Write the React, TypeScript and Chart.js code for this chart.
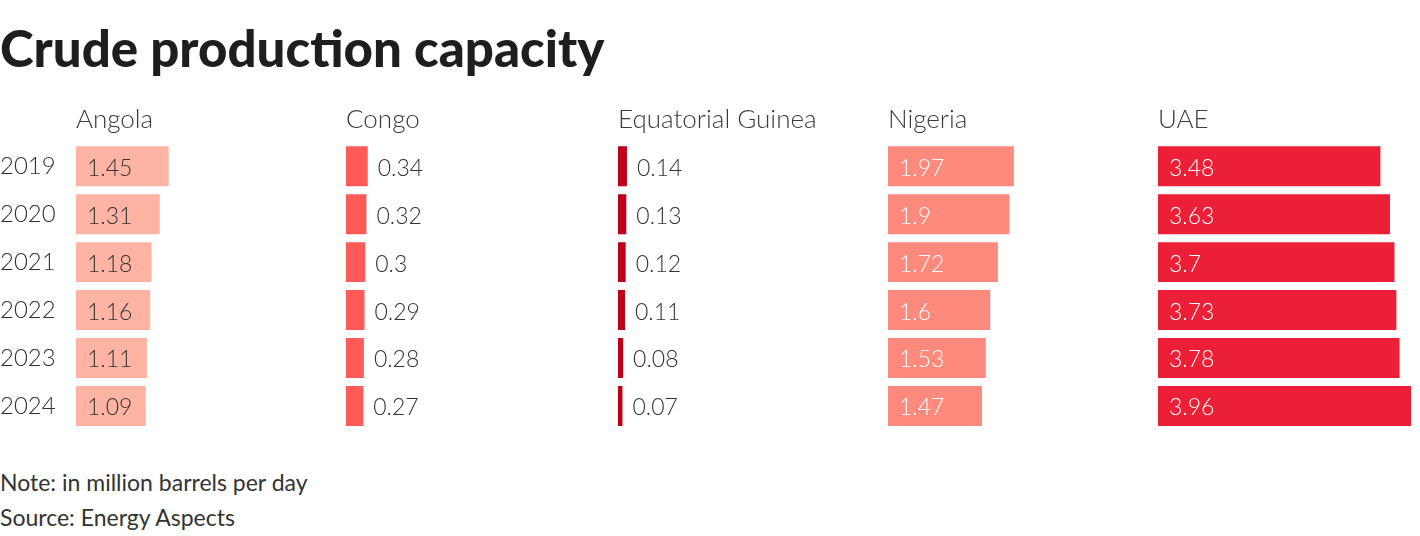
import React, { useEffect, useRef } from "react";
import { Chart, registerables } from "chart.js";

Chart.register(...registerables);

const years = ["2019", "2020", "2021", "2022", "2023", "2024"];
const countries = ["Angola", "Congo", "Equatorial Guinea", "Nigeria", "UAE"];
const angola = [1.45, 1.31, 1.18, 1.16, 1.11, 1.09];
const congo = [0.34, 0.32, 0.3, 0.29, 0.28, 0.27];
const eqGuinea = [0.14, 0.13, 0.12, 0.11, 0.08, 0.07];
const nigeria = [1.97, 1.9, 1.72, 1.6, 1.53, 1.47];
const uae = [3.48, 3.63, 3.7, 3.73, 3.78, 3.96];
const seriesValues = [angola, congo, eqGuinea, nigeria, uae];

const barColors = ["#feb3a3", "#fe5a58", "#be0019", "#fe8a7e", "#eb2036"];
const insideTextColors = ["#333333", "#ffffff", "#ffffff", "#ffffff", "#ffffff"];
const panelLefts = [76, 346, 618, 888, 1158];
const PANEL_W = 262;
const AXIS_MAX = 4.1;
const FONT = "'Source Sans Pro', Lato, 'Noto Sans', sans-serif";
const TEXT_DARK = "#333333";

function Panel({ index }: { index: number }) {
  const ref = useRef<HTMLCanvasElement | null>(null);
  const withAxis = index === 0;
  const axisW = 76;
  const width = PANEL_W + (withAxis ? axisW : 0);
  const height = 330;
  const left = panelLefts[index] - (withAxis ? axisW : 0);

  useEffect(() => {
    if (!ref.current) return;
    const values = seriesValues[index];
    const labelPlugin = {
      id: "valueLabels",
      afterDatasetsDraw(chart: any) {
        const ctx = chart.ctx;
        const meta = chart.getDatasetMeta(0);
        ctx.save();
        ctx.font = `300 23px ${FONT}`;
        ctx.textBaseline = "middle";
        ctx.textAlign = "left";
        meta.data.forEach((bar: any, i: number) => {
          const p = bar.getProps(["x", "y", "base"], true);
          const text = String(values[i]);
          const tw = ctx.measureText(text).width;
          const inside = p.x - p.base > tw + 20;
          if (inside) {
            ctx.fillStyle = insideTextColors[index];
            ctx.fillText(text, p.base + 11, p.y + 2);
          } else {
            ctx.fillStyle = TEXT_DARK;
            ctx.fillText(text, p.x + 10, p.y + 2);
          }
        });
        ctx.restore();
      },
    };

    const yScale: any = {
      display: withAxis,
      grid: { display: false, drawTicks: false },
      border: { display: false },
      ticks: {
        crossAlign: "far",
        padding: 0,
        color: TEXT_DARK,
        font: { family: FONT, size: 24, weight: "300" },
      },
    };
    if (withAxis) {
      yScale.afterFit = (scale: any) => {
        scale.width = axisW;
        scale.paddingTop = 0;
        scale.paddingBottom = 0;
      };
    }

    const chart = new Chart(ref.current, {
      type: "bar",
      data: {
        labels: years,
        datasets: [
          {
            data: values,
            backgroundColor: barColors[index],
            borderWidth: 0,
            barPercentage: 1,
            categoryPercentage: 40 / 48,
          },
        ],
      },
      options: {
        indexAxis: "y",
        animation: false,
        responsive: false,
        maintainAspectRatio: false,
        layout: { padding: 0 },
        plugins: {
          legend: { display: false },
          tooltip: { enabled: false },
          title: {
            display: true,
            text: countries[index],
            align: "start",
            fullSize: false,
            color: "#3a3a3a",
            font: { family: FONT, size: 26, weight: "300" as any },
            padding: { top: 4, bottom: 7 },
          },
        },
        scales: {
          x: {
            display: false,
            min: 0,
            max: AXIS_MAX,
          },
          y: yScale,
        },
      },
      plugins: [labelPlugin],
    });
    return () => chart.destroy();
  }, [index]);

  return (
    <canvas
      ref={ref}
      width={width}
      height={height}
      style={{ position: "absolute", left, top: 100, width, height }}
    />
  );
}

export default function App() {
  return (
    <div
      style={{
        position: "absolute",
        left: 0,
        top: 0,
        width: 1420,
        height: 536,
        background: "#ffffff",
        fontFamily: FONT,
        color: TEXT_DARK,
      }}
    >
      <div
        style={{
          position: "absolute",
          left: 0,
          top: 17,
          fontSize: 51,
          fontWeight: 900,
          color: "#1e1e1e",
          whiteSpace: "nowrap",
          lineHeight: "62px",
        }}
      >
        Crude production capacity
      </div>
      {countries.map((c, i) => (
        <Panel key={c} index={i} />
      ))}
      <div
        style={{
          position: "absolute",
          left: 0,
          top: 468,
          fontSize: 23,
          lineHeight: "28px",
          whiteSpace: "nowrap",
        }}
      >
        Note: in million barrels per day
      </div>
      <div
        style={{
          position: "absolute",
          left: 0,
          top: 503,
          fontSize: 23,
          lineHeight: "28px",
          whiteSpace: "nowrap",
        }}
      >
        Source: Energy Aspects
      </div>
    </div>
  );
}
